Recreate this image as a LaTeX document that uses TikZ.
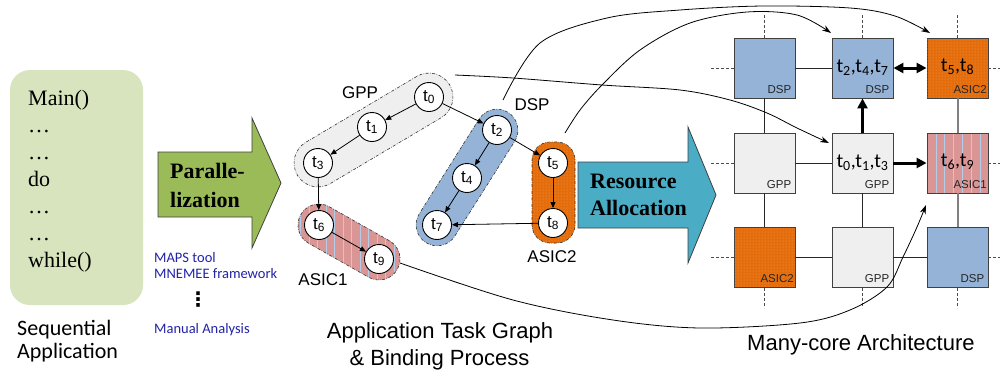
\documentclass[tikz,border=0pt]{standalone}
\usepackage{fontspec}
\setmainfont{Liberation Serif}
\newfontfamily\arialf{Liberation Sans}
\newfontfamily\calf{Carlito}
\newfontfamily\dejaf{DejaVu Sans}
\usetikzlibrary{arrows.meta,patterns,calc}
\definecolor{codebg}{HTML}{D7E4BD}
\definecolor{pargreen}{HTML}{9BBB59}
\definecolor{restea}{HTML}{4BACC6}
\definecolor{gppc}{HTML}{EFEFEF}
\definecolor{dspc}{HTML}{95B3D7}
\definecolor{asictwo}{HTML}{E46C0A}
\definecolor{asictwodot}{HTML}{F0A060}
\definecolor{asicone}{HTML}{D99694}
\definecolor{stripec}{HTML}{B4CDEB}
\definecolor{toolblue}{HTML}{2323A8}
\definecolor{tileborder}{HTML}{404040}
\tikzset{
  tnode/.style={circle, draw, fill=white, line width=0.9pt, minimum size=29pt, inner sep=0pt, font=\arialf\fontsize{17}{17}\selectfont},
  tedge/.style={line width=0.8pt, -{Triangle[length=6pt,width=5pt]}},
  grpbox/.style={line width=0.6pt, dash pattern=on 3pt off 1.5pt on 0.6pt off 1.5pt, draw=black!80, inner sep=0pt},
  tilebox/.style={draw=tileborder, line width=0.9pt, minimum width=61pt, minimum height=60pt, inner sep=0pt},
  tlab/.style={font=\arialf\fontsize{11.5}{12}\selectfont, inner sep=0pt, anchor=base east, text=black!85},
  ttext/.style={font=\calf\fontsize{20}{22}\selectfont, inner sep=0pt, anchor=base},
  gridlink/.style={line width=0.8pt, draw=black!85},
  graylink/.style={line width=2pt, draw=black!50},
  fatarrow/.style={line width=3pt},
  stub/.style={line width=0.6pt, draw=black!70, dash pattern=on 3pt off 2pt},
  bigcurve/.style={line width=0.8pt, -{Stealth[length=9pt,width=6pt]}},
  grplab/.style={font=\arialf\fontsize{17}{17}\selectfont, inner sep=0pt},
  captext/.style={font=\arialf\fontsize{22}{26}\selectfont, inner sep=0pt, anchor=base},
  codetxt/.style={font=\fontsize{22}{26}\selectfont, inner sep=0pt, anchor=base west},
  tooltxt/.style={font=\calf\fontsize{14.5}{16}\selectfont, text=toolblue, inner sep=0pt, anchor=base west},
  boldtxt/.style={font=\bfseries\fontsize{22}{26}\selectfont, inner sep=0pt, anchor=base west},
  bigarrow/.style={draw=black!75, line width=0.8pt},
}
\begin{document}
\begin{tikzpicture}[x=1pt,y=-1pt]
\useasboundingbox (0,0) rectangle (1000,373);
\fill[white] (0,0) rectangle (1000,373);

% sequential code
\node[fill=codebg, rounded corners=20pt, minimum width=133pt, minimum height=235pt, inner sep=0pt] (code) at (76.5,187.5) {};
\node[codetxt] (l1) at (28,105) {Main()};
\node[codetxt] (l2) at (28,132) {…};
\node[codetxt] (l3) at (28,159) {…};
\node[codetxt] (l4) at (28,186) {do};
\node[codetxt] (l5) at (28,213) {…};
\node[codetxt] (l6) at (28,240) {…};
\node[codetxt] (l7) at (28,267) {while()};
\node[font=\calf\fontsize{22}{26}\selectfont, inner sep=0pt, anchor=base west] (seq1) at (17,335) {Sequential};
\node[font=\calf\fontsize{22}{26}\selectfont, inner sep=0pt, anchor=base west] (seq2) at (17,358) {Application};

% parallelization arrow
\draw[bigarrow, fill=pargreen] (158,152) -- (252,152) -- (252,118) -- (281,183) -- (252,248) -- (252,217) -- (158,217) -- cycle;
\node[boldtxt] (par1) at (170,178) {Paralle-};
\node[boldtxt] (par2) at (170,207) {lization};
\node[tooltxt] (tool1) at (154,262) {MAPS tool};
\node[tooltxt] (tool2) at (154,278) {MNEMEE framework};
\node[font=\dejaf\bfseries\fontsize{20}{20}\selectfont, inner sep=0pt] (tooldots) at (198,300) {⋮};
\node[tooltxt] (tool3) at (154,333) {Manual Analysis};

% groups
\node[grpbox, fill=gppc, rotate=30.7, minimum width=177pt, minimum height=48pt, rounded corners=24pt] (gppgrp) at (373.5,130) {};
\node[grpbox, fill=dspc, rotate=57.7, minimum width=154pt, minimum height=42pt, rounded corners=21pt] (dspgrp) at (467,177.5) {};
\node[grpbox, fill=asictwo, postaction={pattern=dots, pattern color=asictwodot}, minimum width=43pt, minimum height=101pt, rounded corners=18pt] (a2grp) at (553.5,192.5) {};
\begin{scope}
\clip[rotate around={-29.5:(349,242)}, rounded corners=21pt] (293.5,221) rectangle (404.5,263);
\fill[asicone] (280,200) rectangle (420,290);
\foreach \sx in {292,300.5,...,410} \draw[stripec, line width=0.8pt] (\sx,200) -- (\sx,290);
\end{scope}
\node[grpbox, rotate=-29.5, minimum width=111pt, minimum height=42pt, rounded corners=21pt] (a1grp) at (349,242) {};

\node[grplab] (gpplab) at (360,93) {GPP};
\node[grplab] (dsplab) at (532,105) {DSP};
\node[grplab] (a2lab) at (552,257) {ASIC2};
\node[grplab] (a1lab) at (323,280) {ASIC1};

% task nodes
\node[tnode] (t0) at (429,97) {t\textsubscript{0}};
\node[tnode] (t1) at (372,127) {t\textsubscript{1}};
\node[tnode] (t3) at (318,163) {t\textsubscript{3}};
\node[tnode] (t6) at (319,225) {t\textsubscript{6}};
\node[tnode] (t9) at (379,259) {t\textsubscript{9}};
\node[tnode] (t2) at (497,130) {t\textsubscript{2}};
\node[tnode] (t4) at (467,178) {t\textsubscript{4}};
\node[tnode] (t7) at (437,225) {t\textsubscript{7}};
\node[tnode] (t5) at (553,163) {t\textsubscript{5}};
\node[tnode] (t8) at (553,223) {t\textsubscript{8}};

\draw[tedge] (t0) -- (t1);
\draw[tedge] (t1) -- (t3);
\draw[tedge] (t3) -- (t6);
\draw[tedge] (t6) -- (t9);
\draw[tedge] (t0) -- (t2);
\draw[tedge] (t2) -- (t4);
\draw[tedge] (t4) -- (t7);
\draw[tedge] (t2) -- (t5);
\draw[tedge] (t5) -- (t8);
\draw[tedge] (t8) -- (t7);

\node[captext] (cap1) at (440,338) {Application Task Graph};
\node[captext] (cap2) at (439.5,365) {\& Binding Process};

% resource allocation arrow
\draw[bigarrow, fill=restea] (578,162) -- (688,162) -- (688,127) -- (716,195) -- (688,263) -- (688,228) -- (578,228) -- cycle;
\node[boldtxt] (res1) at (590,188) {Resource};
\node[boldtxt] (res2) at (590,215) {Allocation};

% tiles
\node[tilebox, fill=dspc] (r1c1) at (764.5,68) {};
\node[tilebox, fill=dspc] (r1c2) at (862.5,68) {};
\node[tilebox, fill=asictwo, postaction={pattern=dots, pattern color=asictwodot}] (r1c3) at (957.5,68) {};
\node[tilebox, fill=gppc] (r2c1) at (764.5,163) {};
\node[tilebox, fill=gppc] (r2c2) at (862.5,163) {};
\node[tilebox, fill=asicone, path picture={\foreach \sx in {9,17.8,26.6,35.4,44.2,53}{\draw[stripec, line width=0.9pt] ($(path picture bounding box.north west)+(\sx,0)$) -- ($(path picture bounding box.south west)+(\sx,0)$);}}] (r2c3) at (957.5,163) {};
\node[tilebox, fill=asictwo, postaction={pattern=dots, pattern color=asictwodot}] (r3c1) at (764.5,257.5) {};
\node[tilebox, fill=gppc] (r3c2) at (862.5,257.5) {};
\node[tilebox, fill=dspc] (r3c3) at (957.5,257.5) {};

\node[tlab] (lab11) at ($(r1c1.south east)+(-4,-5)$) {DSP};
\node[tlab] (lab12) at ($(r1c2.south east)+(-4,-5)$) {DSP};
\node[tlab] (lab13) at ($(r1c3.south east)+(-1.5,-5)$) {ASIC2};
\node[tlab] (lab21) at ($(r2c1.south east)+(-4,-5)$) {GPP};
\node[tlab] (lab22) at ($(r2c2.south east)+(-4,-5)$) {GPP};
\node[tlab] (lab23) at ($(r2c3.south east)+(-1.5,-5)$) {ASIC1};
\node[tlab] (lab31) at ($(r3c1.south east)+(-1.5,-5)$) {ASIC2};
\node[tlab] (lab32) at ($(r3c2.south east)+(-4,-5)$) {GPP};
\node[tlab] (lab33) at ($(r3c3.south east)+(-4,-5)$) {DSP};

\node[ttext] (tt12) at ($(r1c2.center)+(0,4)$) {t\textsubscript{2},t\textsubscript{4},t\textsubscript{7}};
\node[ttext] (tt13) at ($(r1c3.center)+(0,3)$) {t\textsubscript{5},t\textsubscript{8}};
\node[ttext] (tt22) at ($(r2c2.center)+(0,4)$) {t\textsubscript{0},t\textsubscript{1},t\textsubscript{3}};
\node[ttext] (tt23) at ($(r2c3.center)+(0,3)$) {t\textsubscript{6},t\textsubscript{9}};

% grid links
\draw[gridlink] (r1c1) -- (r1c2);
\draw[fatarrow, {Triangle[length=10pt,width=10pt]}-{Triangle[length=10pt,width=10pt]}] (r1c2) -- (r1c3);
\draw[fatarrow, -{Triangle[length=10pt,width=10pt]}] (r2c2) -- (r2c3);
\draw[fatarrow, -{Triangle[length=10pt,width=10pt]}] (r2c2) -- (r1c2);
\draw[gridlink] (r1c1) -- (r2c1);
\draw[graylink] (r1c3) -- (r2c3);
\draw[gridlink] (r2c1) -- (r2c2);
\draw[gridlink] (r2c1) -- (r3c1);
\draw[gridlink] (r2c2) -- (r3c2);
\draw[graylink] (r2c3) -- (r3c3);
\draw[gridlink] (r3c1) -- (r3c2);
\draw[gridlink] (r3c2) -- (r3c3);

% stubs
\foreach \n in {r1c1,r1c2,r1c3} \draw[stub] (\n.north) -- ++(0,-23);
\foreach \n in {r3c1,r3c2,r3c3} \draw[stub] (\n.south) -- ++(0,20);
\foreach \n in {r1c1,r2c1,r3c1} \draw[stub] (\n.west) -- ++(-24,0);
\foreach \n in {r1c3,r2c3,r3c3} \draw[stub] (\n.east) -- ++(12,0);

% binding curves
\coordinate (c1s) at (503,100);
\coordinate (c1e) at (930,33);
\coordinate (c2s) at (565,133);
\coordinate (c2e) at (831,33);
\coordinate (c3s) at (455,75);
\coordinate (c3e) at (829,143);
\coordinate (c4s) at (400,263);
\coordinate (c4e) at (926,205);
\draw[bigcurve] plot[smooth, tension=0.55] coordinates {(c1s) (540,43) (607,18) (680,10) (763,6) (850,8) (895,16) (c1e)};
\draw[bigcurve] plot[smooth, tension=0.55] coordinates {(c2s) (580,110) (602,85) (640,50) (690,23) (747,12) (797,15) (c2e)};
\draw[bigcurve] plot[smooth, tension=0.55] coordinates {(c3s) (513,78) (602,85) (680,90) (730,100) (767,113) (797,128) (c3e)};
\draw[bigcurve] plot[smooth, tension=0.55] coordinates {(c4s) (513,300) (613,320) (700,328) (800,323) (850,310) (887,287) (903,257) (917,227) (c4e)};

\node[captext, anchor=base west] (cap3) at (747,350) {Many-core Architecture};
\end{tikzpicture}
\end{document}
